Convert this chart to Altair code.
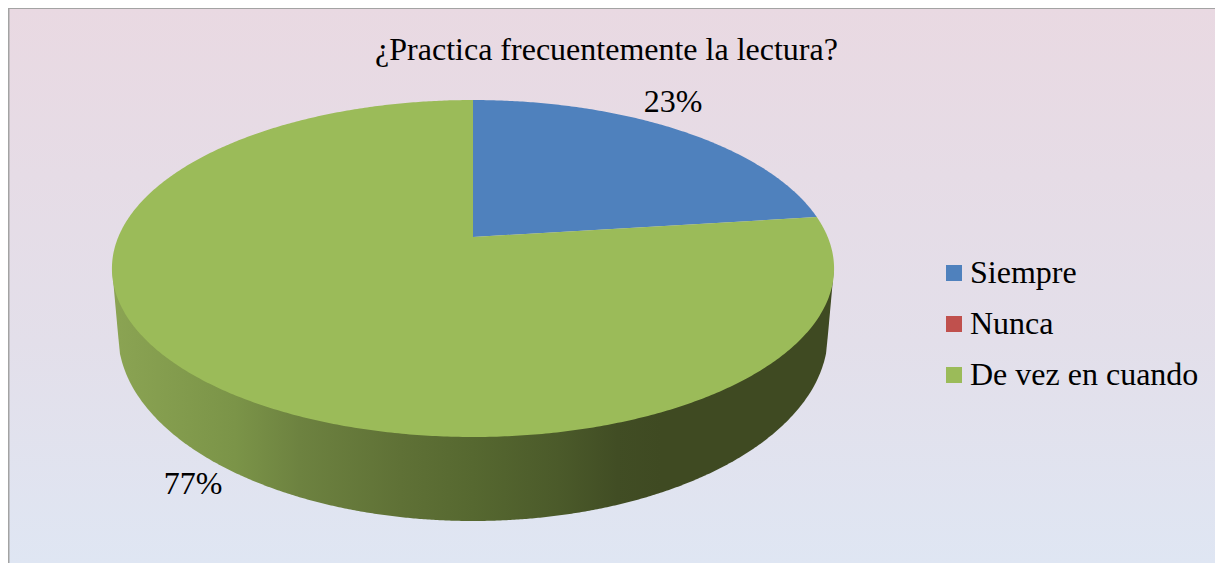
import numpy as np
import pandas as pd
import altair as alt

# ---- values
categories = ["Siempre", "Nunca", "De vez en cuando"]
shares = [23, 0, 77]
share_labels = ["23%", "77%"]
title_text = "¿Practica frecuentemente la lectura?"
colors = ["#4f81bd", "#c0504d", "#9bbb59"]

# ---- layout of the drawing
W, H = 1207, 555
X0, Y0 = 8, 8
FONT = "Liberation Serif"
CX, APEX_Y = 473, 237      # projected centre of the pie
BX, BY, PERSP = 354.7, 162.6, 0.187   # perspective projection of the disc
WALL_CY, WALL_RX, WALL_RY = 334, 355, 187
TOP_CY, TOP_RX = 268, 361


def project(theta_deg):
    t = np.radians(theta_deg)
    w = 1 + PERSP * np.cos(t)
    return CX + BX * np.sin(t) / w, APEX_Y - BY * np.cos(t) / w


# slice polygons derived from the shares
rows = []
start = 0.0
for cat, share in zip(categories, shares):
    sweep = share / sum(shares) * 360
    rows.append(dict(category=cat, px=CX, py=APEX_Y, ord=0))
    n = max(int(sweep * 2), 1) + 1
    for i, th in enumerate(np.linspace(start, start + sweep, n)):
        x, y = project(th)
        rows.append(dict(category=cat, px=float(x), py=float(y), ord=i + 1))
    rows.append(dict(category=cat, px=CX, py=APEX_Y, ord=n + 1))
    start += sweep
faces = pd.DataFrame(rows)

# side wall: from the rim's level down to the lower rim
xs = np.concatenate([[CX - TOP_RX], np.linspace(CX - WALL_RX, CX + WALL_RX, 361), [CX + TOP_RX]])
low = WALL_CY + WALL_RY * np.sqrt(np.clip(1 - ((xs - CX) / WALL_RX) ** 2, 0, 1))
low[0] = low[-1] = TOP_CY
wall = pd.DataFrame({"px": xs, "top": TOP_CY, "low": low})

label_pos = pd.DataFrame({"text": share_labels, "px": [673, 193], "py": [102, 484]})

xscale = alt.Scale(domain=[X0, X0 + W], range=[0, W], nice=False, zero=False)
yscale = alt.Scale(domain=[Y0, Y0 + H], range=[0, H], nice=False, zero=False)
gx = alt.X("px:Q", scale=xscale, axis=None)
gy = alt.Y("py:Q", scale=yscale, axis=None)

background = alt.Chart(pd.DataFrame({"a": [0]})).mark_rect(
    color=alt.Gradient(
        gradient="linear", x1=0, x2=0, y1=0, y2=1,
        stops=[
            alt.GradientStop(color="#e9d9e2", offset=0),
            alt.GradientStop(color="#e3dfea", offset=0.6),
            alt.GradientStop(color="#dfe6f3", offset=1),
        ],
    )
).encode(x=alt.value(0), x2=alt.value(W), y=alt.value(0), y2=alt.value(H))

border_l = alt.Chart(pd.DataFrame({"a": [0]})).mark_rule(color="#a3a3a3", strokeWidth=2).encode(
    x=alt.value(0.5), y=alt.value(0), y2=alt.value(H))
border_t = alt.Chart(pd.DataFrame({"a": [0]})).mark_rule(color="#a3a3a3", strokeWidth=2).encode(
    y=alt.value(0), x=alt.value(0), x2=alt.value(W))

wall_layer = alt.Chart(wall).mark_area(
    color=alt.Gradient(
        gradient="linear", x1=0, x2=1, y1=0, y2=0,
        stops=[
            alt.GradientStop(color="#8ba453", offset=0),
            alt.GradientStop(color="#7b9448", offset=0.17),
            alt.GradientStop(color="#6d8240", offset=0.26),
            alt.GradientStop(color="#5f7136", offset=0.40),
            alt.GradientStop(color="#566830", offset=0.50),
            alt.GradientStop(color="#4b5a2a", offset=0.62),
            alt.GradientStop(color="#414d24", offset=0.70),
            alt.GradientStop(color="#3f4a22", offset=0.76),
            alt.GradientStop(color="#3f4a22", offset=1),
        ],
    )
).encode(x=gx, y=alt.Y("top:Q", scale=yscale, axis=None), y2="low:Q")

face_layer = alt.Chart(faces).mark_line(strokeWidth=0).encode(
    x=gx, y=gy, order="ord:Q",
    fill=alt.Fill(
        "category:N",
        scale=alt.Scale(domain=categories, range=colors),
        sort=categories,
        legend=alt.Legend(
            title=None, orient="none", legendX=930, legendY=249,
            symbolType="square", symbolSize=256, symbolStrokeWidth=0,
            labelFont=FONT, labelFontSize=32, labelColor="#000000",
            labelOffset=0, rowPadding=19, labelLimit=400, padding=0,
        ),
    ),
)

labels = alt.Chart(label_pos).mark_text(
    font=FONT, fontSize=32, color="#000000", align="center", baseline="middle"
).encode(x=gx, y=gy, text="text:N")

chart = alt.layer(background, wall_layer, face_layer, labels, border_l, border_t).properties(
    width=W, height=H, padding=0,
    autosize=alt.AutoSizeParams(type="none"),
    background="#ffffff",
    title=alt.TitleParams(
        text=title_text, font=FONT, fontSize=32, fontWeight="normal", color="#000000",
        anchor="middle", frame="group", dx=-5, dy=64,
    ),
).configure_view(stroke=None)

chart.save("out.html", embed_options={"renderer": "svg", "actions": False})
